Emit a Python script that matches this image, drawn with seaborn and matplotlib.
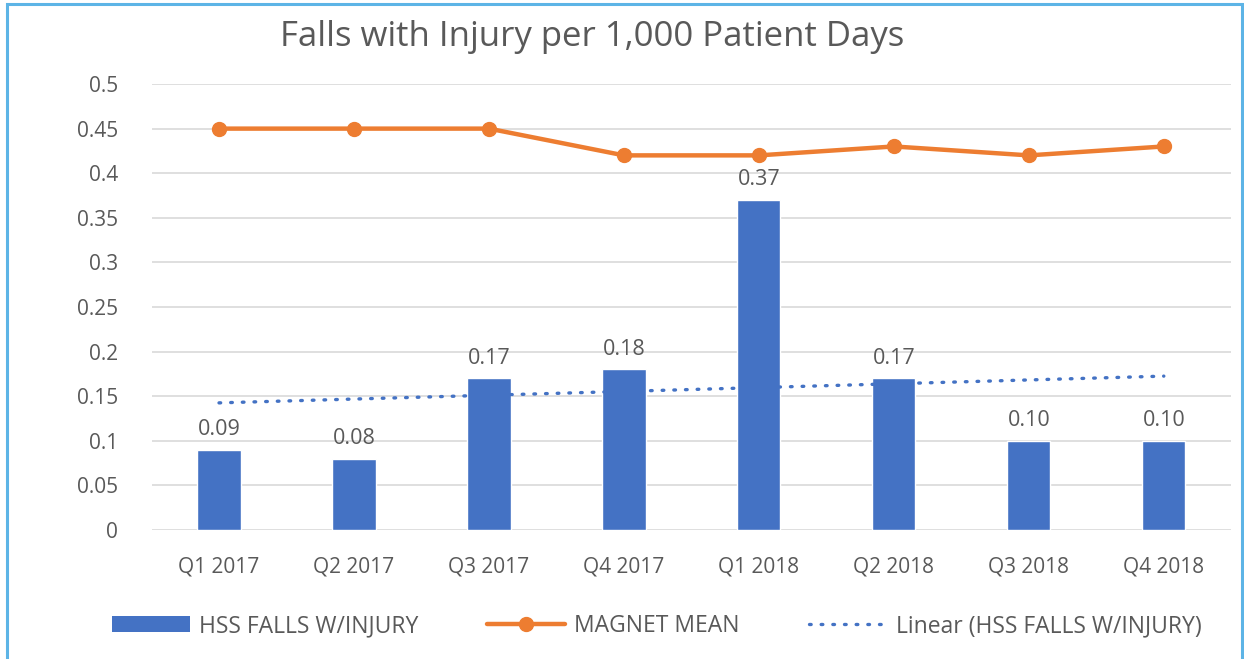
import numpy as np
import pandas as pd
import matplotlib
matplotlib.use("Agg")
import matplotlib.pyplot as plt
import seaborn as sns
from matplotlib.patches import Rectangle, Patch
from matplotlib.lines import Line2D

sns.set_style("white")
plt.rcParams['font.family'] = ['Open Sans', 'DejaVu Sans']

# data
quarters = ['Q1 2017', 'Q2 2017', 'Q3 2017', 'Q4 2017',
            'Q1 2018', 'Q2 2018', 'Q3 2018', 'Q4 2018']
hss_falls = [0.09, 0.08, 0.17, 0.18, 0.37, 0.17, 0.10, 0.10]
magnet_mean = [0.45, 0.45, 0.45, 0.42, 0.42, 0.43, 0.42, 0.43]

df = pd.DataFrame({'Quarter': quarters, 'HSS': hss_falls, 'Magnet': magnet_mean})
xpos = np.arange(len(quarters))

# Excel-style linear trendline of the bars
slope, icpt = np.polyfit(xpos + 1, df['HSS'], 1)
trend = icpt + slope * (xpos + 1)

blue = '#4472C4'
orange = '#ED7D31'
grey = '#595959'
dots = (0, (0.5, 3.0))

fig = plt.figure(figsize=(12.44, 6.59), dpi=100)
ax = fig.add_axes([0.1218, 0.1958, 0.868, 0.6767])

sns.barplot(data=df, x='Quarter', y='HSS', color=blue, width=0.32,
            saturation=1, ax=ax, zorder=2)
ax.plot(xpos, trend, color=blue, lw=2.4, linestyle=dots,
        dash_capstyle='round', zorder=3)
ax.plot(xpos, df['Magnet'], color=orange, lw=3.2, marker='o',
        markersize=10, zorder=4)

for x, v in zip(xpos, hss_falls):
    ax.text(x, v + 0.011, f"{v:.2f}", ha='center', va='bottom',
            fontsize=15.5, color=grey)

ax.set_ylim(0, 0.5)
ax.set_xlim(-0.5, len(quarters) - 0.5)
yt = np.arange(0, 0.501, 0.05)
ax.set_yticks(yt)
ax.set_yticklabels([f"{round(v, 2):g}" for v in yt])
ax.yaxis.grid(True, color='#D9D9D9', lw=1.2)
ax.set_axisbelow(True)
for s in ax.spines.values():
    s.set_visible(False)
ax.tick_params(axis='both', length=0, labelsize=15, labelcolor=grey)
ax.tick_params(axis='x', pad=19)
ax.tick_params(axis='y', pad=24)
ax.set_xlabel('')
ax.set_ylabel('')

fig.text(0.476, 0.944, 'Falls with Injury per 1,000 Patient Days',
         ha='center', va='center', fontsize=25, color=grey)

handles = [
    Patch(facecolor=blue, edgecolor='none'),
    Line2D([0], [0], color=orange, lw=3.2, marker='o', markersize=10),
    Line2D([0], [0], color=blue, lw=2.4, linestyle=dots,
           dash_capstyle='round'),
]
labels = ['HSS FALLS W/INJURY', 'MAGNET MEAN', 'Linear (HSS FALLS W/INJURY)']
fig.legend(handles, labels, loc='center', bbox_to_anchor=(0.528, 0.05),
           ncol=3, frameon=False, fontsize=16.5, labelcolor=grey,
           handlelength=3.4, handleheight=0.7, columnspacing=3.0,
           handletextpad=0.4)

border = Rectangle((7 / 1244, -0.05), (1242 - 7) / 1244, 1.05 - 4 / 659,
                   transform=fig.transFigure, fill=False,
                   edgecolor='#5DB4E6', lw=2.2)
fig.patches.append(border)

fig.savefig('out.png', dpi=100)
